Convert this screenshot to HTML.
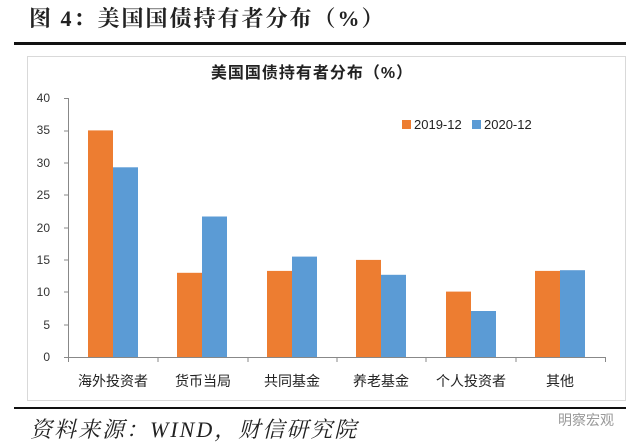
<!DOCTYPE html>
<html><head><meta charset="utf-8"><style>
body{margin:0;width:640px;height:445px;background:#fff;overflow:hidden;position:relative;font-family:"Liberation Sans","Noto Sans CJK SC",sans-serif}
.a{position:absolute;white-space:nowrap}
</style></head><body>
<div class="a" style="left:29px;top:2px;font-family:'Liberation Serif','Noto Serif CJK SC',serif;font-weight:bold;font-size:22px;letter-spacing:2px;color:#222">图 4：美国国债持有者分布（%）</div>
<div class="a" style="left:14px;top:42px;width:612px;height:3px;background:#111"></div>
<div class="a" style="left:27px;top:56px;width:597px;height:343px;border:1px solid #d9d9d9"></div>
<svg class="a" style="left:0;top:0" width="640" height="445" font-family="Liberation Sans, Noto Sans CJK SC, sans-serif">
<text x="312" y="78" text-anchor="middle" font-size="16" font-weight="bold" fill="#222" letter-spacing="1">美国国债持有者分布（%）</text>
<g font-size="12" fill="#333" text-anchor="end">
<text x="50" y="102">40</text><text x="50" y="134">35</text><text x="50" y="167">30</text><text x="50" y="199">25</text><text x="50" y="232">20</text><text x="50" y="264">15</text><text x="50" y="296">10</text><text x="50" y="329">5</text><text x="50" y="361">0</text>
</g>
<g stroke="#888" stroke-width="1">
<line x1="68.5" y1="98" x2="68.5" y2="357"/>
<line x1="64" y1="98.5" x2="68" y2="98.5"/><line x1="64" y1="131" x2="68" y2="131"/><line x1="64" y1="163" x2="68" y2="163"/><line x1="64" y1="195" x2="68" y2="195"/><line x1="64" y1="228" x2="68" y2="228"/><line x1="64" y1="260" x2="68" y2="260"/><line x1="64" y1="292" x2="68" y2="292"/><line x1="64" y1="325" x2="68" y2="325"/>
<line x1="64" y1="357.5" x2="606" y2="357.5"/>
<line x1="68.5" y1="357" x2="68.5" y2="362"/><line x1="158" y1="357" x2="158" y2="362"/><line x1="248" y1="357" x2="248" y2="362"/><line x1="337" y1="357" x2="337" y2="362"/><line x1="426" y1="357" x2="426" y2="362"/><line x1="516" y1="357" x2="516" y2="362"/><line x1="605.5" y1="357" x2="605.5" y2="362"/>
</g>
<g fill="#ED7D31">
<rect x="88" y="130.4" width="25" height="226.6"/>
<rect x="177" y="272.8" width="25" height="84.2"/>
<rect x="267" y="270.9" width="25" height="86.1"/>
<rect x="356" y="259.9" width="25" height="97.1"/>
<rect x="446" y="291.6" width="25" height="65.4"/>
<rect x="535" y="270.9" width="25" height="86.1"/>
</g>
<g fill="#5B9BD5">
<rect x="113" y="167.3" width="25" height="189.7"/>
<rect x="202" y="216.5" width="25" height="140.5"/>
<rect x="292" y="256.6" width="25" height="100.4"/>
<rect x="381" y="274.8" width="25" height="82.2"/>
<rect x="471" y="311" width="25" height="46"/>
<rect x="560" y="270.2" width="25" height="86.8"/>
</g>
<rect x="402" y="120" width="9" height="9" fill="#ED7D31"/>
<text x="414" y="129" font-size="13" fill="#222">2019-12</text>
<rect x="472" y="120" width="9" height="9" fill="#5B9BD5"/>
<text x="484" y="129" font-size="13" fill="#222">2020-12</text>
<g font-size="14" fill="#222" text-anchor="middle">
<text x="113" y="386">海外投资者</text><text x="203" y="386">货币当局</text><text x="292" y="386">共同基金</text><text x="381" y="386">养老基金</text><text x="471" y="386">个人投资者</text><text x="560" y="386">其他</text>
</g>
</svg>
<div class="a" style="left:14px;top:407px;width:612px;height:2px;background:#111"></div>
<div class="a" style="left:30px;top:413px;font-family:'Liberation Serif','Noto Serif CJK SC',serif;font-style:italic;font-size:22px;letter-spacing:2px;color:#222">资料来源：WIND，财信研究院</div>
<div class="a" style="left:558px;top:410px;font-size:14px;color:#999">明察宏观</div>
</body></html>
